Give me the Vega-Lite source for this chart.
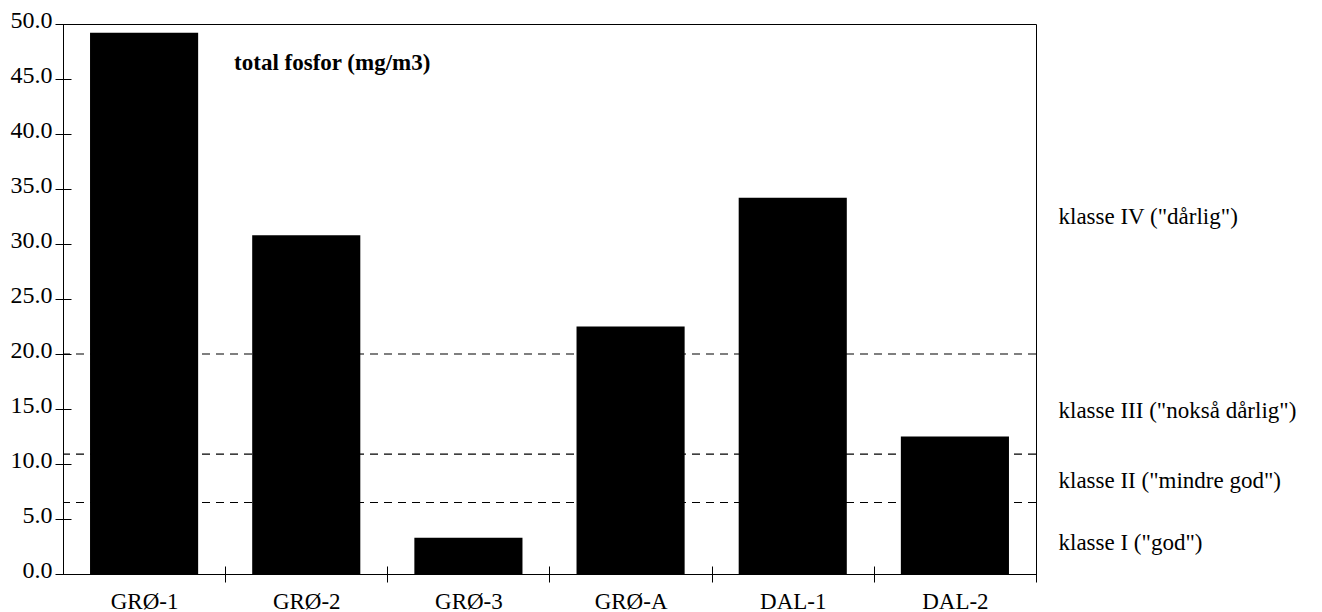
{
  "$schema": "https://vega.github.io/schema/vega-lite/v6.json",
  "autosize": "none",
  "padding": {"left": 63, "top": 24, "right": 286, "bottom": 38},
  "width": 973,
  "height": 550,
  "background": "white",
  "config": {
    "font": "Liberation Serif",
    "view": {"stroke": "#000", "strokeWidth": 1},
    "axis": {"labelColor": "#000", "tickColor": "#000", "domainColor": "#000", "labelFont": "Liberation Serif", "grid": false, "title": null}
  },
  "datasets": {
    "bars": [
      {"stasjon": "GRØ-1", "fosfor": 49.2},
      {"stasjon": "GRØ-2", "fosfor": 30.8},
      {"stasjon": "GRØ-3", "fosfor": 3.3},
      {"stasjon": "GRØ-A", "fosfor": 22.5},
      {"stasjon": "DAL-1", "fosfor": 34.2},
      {"stasjon": "DAL-2", "fosfor": 12.5}
    ],
    "grenser": [
      {"grense": 6.5},
      {"grense": 10.9},
      {"grense": 20}
    ],
    "tittel": [
      {"tekst": "total fosfor (mg/m3)"}
    ]
  },
  "layer": [
    {
      "data": {"name": "grenser"},
      "mark": {"type": "rule", "color": "#000", "strokeWidth": 1.1, "strokeDash": [8, 6]},
      "encoding": {
        "y": {
          "field": "grense",
          "type": "quantitative",
          "scale": {"domain": [0, 50], "nice": false, "zero": true},
          "axis": {
            "orient": "right",
            "values": [2.85, 8.5, 14.9, 32.5],
            "ticks": false,
            "domain": false,
            "labelPadding": 22,
            "labelFontSize": 23,
            "labelLimit": 0,
            "labelBaseline": "middle",
            "labelAlign": "left",
            "labelExpr": "datum.value > 30 ? 'klasse IV (\"dårlig\")' : datum.value > 12 ? 'klasse III (\"nokså dårlig\")' : datum.value > 5 ? 'klasse II (\"mindre god\")' : 'klasse I (\"god\")'"
          }
        }
      }
    },
    {
      "data": {"name": "bars"},
      "mark": {"type": "bar", "color": "#000"},
      "encoding": {
        "x": {
          "field": "stasjon",
          "type": "nominal",
          "sort": null,
          "scale": {"paddingInner": 0.3333, "paddingOuter": 0.1667},
          "axis": {
            "offset": -8,
            "tickSize": 16,
            "domain": false,
            "tickOffset": 81.08,
            "labelOffset": -81.08,
            "labelAngle": 0,
            "labelFontSize": 23,
            "labelPadding": 8
          }
        },
        "y": {
          "field": "fosfor",
          "type": "quantitative",
          "scale": {"domain": [0, 50], "nice": false},
          "axis": {
            "orient": "left",
            "offset": -8,
            "tickSize": 16,
            "domain": false,
            "values": [0, 5, 10, 15, 20, 25, 30, 35, 40, 45, 50],
            "format": ".1f",
            "labelFontSize": 24,
            "labelPadding": 3,
            "labelBaseline": "alphabetic",
            "labelOffset": 3
          }
        }
      }
    },
    {
      "data": {"name": "tittel"},
      "mark": {"type": "text", "font": "Liberation Serif", "fontSize": 23, "fontWeight": "bold", "align": "center", "baseline": "middle", "dx": 26, "color": "#000"},
      "encoding": {
        "text": {"field": "tekst"},
        "x": {"datum": "GRØ-2", "type": "nominal"},
        "y": {"datum": 46.5, "type": "quantitative", "axis": null}
      }
    }
  ],
  "resolve": {"axis": {"y": "independent"}}
}
